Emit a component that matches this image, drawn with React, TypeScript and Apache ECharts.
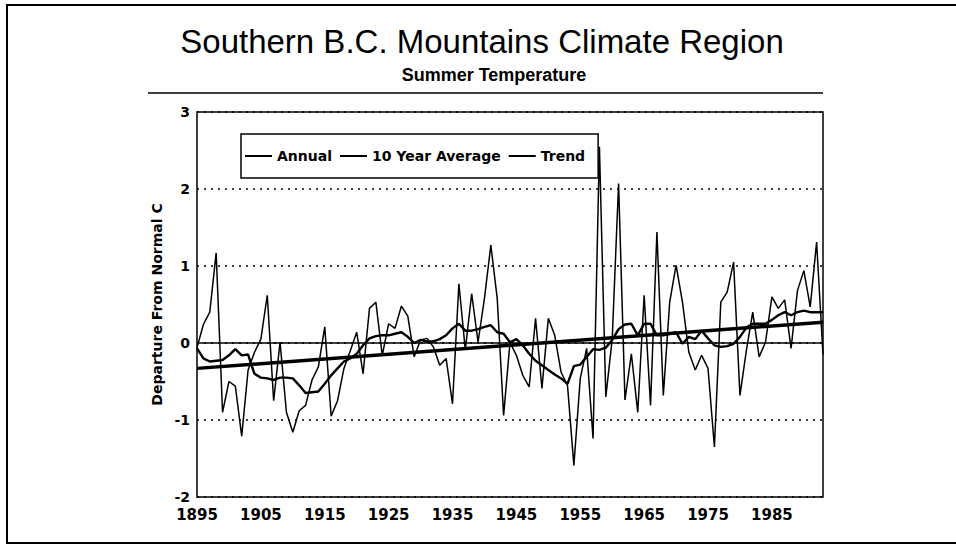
import React, { useEffect, useRef } from "react";
import * as echarts from "echarts";

const FIRST_YEAR = 1895;
const LAST_YEAR = 1993;

// Annual summer temperature departure (°C), 1895–1993
const annual: number[] = [
  -0.06, 0.24, 0.4, 1.17, -0.9, -0.5, -0.56, -1.21, -0.35, -0.12,
  0.05, 0.62, -0.75, 0.01, -0.9, -1.16, -0.88, -0.81, -0.48, -0.31,
  0.21, -0.95, -0.75, -0.33, -0.1, 0.14, -0.4, 0.45, 0.53, -0.16,
  0.25, 0.19, 0.48, 0.35, -0.18, 0.04, 0.06, -0.05, -0.29, -0.2,
  -0.79, 0.77, -0.09, 0.64, 0.01, 0.58, 1.27, 0.58, -0.94, 0.01,
  -0.16, -0.42, -0.57, 0.32, -0.59, 0.32, 0.1, -0.38, -0.55, -1.59,
  -0.46, -0.07, -1.24, 2.55, -0.7, 0.05, 2.07, -0.74, -0.14, -0.9,
  0.62, -0.81, 1.44, -0.68, 0.53, 1.01, 0.53, -0.12, -0.35, -0.16,
  -0.33, -1.35, 0.53, 0.66, 1.05, -0.68, -0.1, 0.4, -0.18, 0.01,
  0.6, 0.45, 0.56, -0.07, 0.68, 0.94, 0.47, 1.31, -0.15,
];

// 10 year running average
const tenYear: number[] = [
  -0.07, -0.2, -0.24, -0.23, -0.22, -0.16, -0.08, -0.16, -0.15, -0.4,
  -0.45, -0.46, -0.48, -0.45, -0.45, -0.46, -0.55, -0.65, -0.64, -0.63,
  -0.53, -0.42, -0.33, -0.24, -0.2, -0.14, -0.03, 0.06, 0.09, 0.1,
  0.1, 0.12, 0.14, 0.08, 0.0, 0.04, 0.02, 0.02, 0.05, 0.1,
  0.19, 0.25, 0.16, 0.16, 0.18, 0.21, 0.23, 0.14, 0.12, 0.01,
  0.05, -0.03, -0.14, -0.23, -0.29, -0.35, -0.41, -0.46, -0.53, -0.3,
  -0.28, -0.18, -0.08, -0.09, -0.06, 0.04, 0.18, 0.24, 0.25, 0.1,
  0.25, 0.25, 0.1, 0.1, 0.12, 0.14, -0.01, 0.08, 0.05, 0.16,
  0.06, -0.03, -0.05, -0.04, -0.01, 0.08, 0.2, 0.25, 0.25, 0.25,
  0.3, 0.36, 0.4, 0.36, 0.4, 0.42, 0.4, 0.4, 0.4,
];

// Linear trend end points
const trendYears: number[] = [1895, 1993];
const trendValues: number[] = [-0.33, 0.27];

const seriesNames: string[] = ["Annual", "10 Year Average", "Trend"];

const TITLE = "Southern B.C. Mountains Climate Region";
const SUBTITLE = "Summer Temperature";
const Y_NAME = "Departure From Normal C";

const years = annual.map((_, i) => FIRST_YEAR + i);

export default function App() {
  const ref = useRef<HTMLDivElement>(null);

  useEffect(() => {
    if (!ref.current) return;
    const chart = echarts.init(ref.current, undefined, { renderer: "svg" });
    const boldFont = "DejaVu Sans";
    const option: any = {
      animation: false,
      backgroundColor: "#ffffff",
      textStyle: { fontFamily: boldFont },
      grid: {
        left: 197,
        top: 112,
        width: 626,
        height: 385,
        show: true,
        borderColor: "#000",
        borderWidth: 1.5,
        backgroundColor: "transparent",
      },
      legend: {
        left: 241,
        top: 134,
        orient: "horizontal",
        padding: [15, 13, 15, 4],
        itemGap: 8,
        itemWidth: 27,
        itemHeight: 2,
        borderColor: "#000",
        borderWidth: 1.5,
        backgroundColor: "#fff",
        textStyle: {
          fontFamily: boldFont,
          fontWeight: "bold",
          fontSize: 14,
          color: "#000",
        },
        data: seriesNames.map((n) => ({ name: n, icon: "rect" })),
      },
      xAxis: {
        type: "value",
        min: FIRST_YEAR,
        max: LAST_YEAR,
        interval: 10,
        axisLine: { show: false },
        axisTick: { show: false },
        splitLine: { show: false },
        axisLabel: {
          formatter: (v: number) => String(v),
          showMaxLabel: false,
          margin: 10,
          color: "#000",
          fontWeight: "bold",
          fontSize: 15,
          fontFamily: boldFont,
        },
      },
      yAxis: {
        type: "value",
        min: -2,
        max: 3,
        interval: 1,
        name: Y_NAME,
        nameLocation: "middle",
        nameRotate: 90,
        nameGap: 31,
        nameTextStyle: {
          fontFamily: boldFont,
          fontWeight: "bold",
          fontSize: 14,
          color: "#000",
        },
        axisLine: { show: false },
        axisTick: { show: false },
        splitLine: {
          show: true,
          lineStyle: { type: [2, 5], color: "#000", width: 1.6 },
        },
        axisLabel: {
          color: "#000",
          fontWeight: "bold",
          fontSize: 14,
          fontFamily: boldFont,
          margin: 7,
        },
      },
      graphic: [
        {
          type: "rect",
          shape: { x: 7, y: 5, width: 960, height: 538 },
          style: { fill: "none", stroke: "#000", lineWidth: 2 },
          silent: true,
        },
        {
          type: "line",
          shape: { x1: 148, y1: 93, x2: 823, y2: 93 },
          style: { stroke: "#000", lineWidth: 1.5 },
          silent: true,
        },
        {
          type: "text",
          x: 482,
          y: 41,
          style: {
            text: TITLE,
            fill: "#000",
            fontFamily: "Liberation Sans",
            fontSize: 33,
            fontWeight: "normal",
            align: "center",
            verticalAlign: "middle",
          },
        },
        {
          type: "text",
          x: 494,
          y: 75,
          style: {
            text: SUBTITLE,
            fill: "#000",
            fontFamily: "Liberation Sans",
            fontSize: 18,
            fontWeight: "bold",
            align: "center",
            verticalAlign: "middle",
          },
        },
      ],
      series: [
        {
          name: seriesNames[0],
          type: "line",
          data: years.map((y, i) => [y, annual[i]]),
          showSymbol: false,
          symbol: "none",
          itemStyle: { color: "#000" },
          lineStyle: { color: "#000", width: 1.5 },
          z: 3,
          markLine: {
            silent: true,
            symbol: "none",
            label: { show: false },
            lineStyle: { color: "#000", type: "solid", width: 1.6 },
            data: [{ yAxis: 0 }],
          },
        },
        {
          name: seriesNames[1],
          type: "line",
          data: years.map((y, i) => [y, tenYear[i]]),
          showSymbol: false,
          symbol: "none",
          itemStyle: { color: "#000" },
          lineStyle: { color: "#000", width: 2.4 },
          z: 4,
        },
        {
          name: seriesNames[2],
          type: "line",
          data: trendYears.map((y, i) => [y, trendValues[i]]),
          showSymbol: false,
          symbol: "none",
          itemStyle: { color: "#000" },
          lineStyle: { color: "#000", width: 3.4 },
          z: 5,
        },
      ],
    };
    chart.setOption(option);
    return () => {
      chart.dispose();
    };
  }, []);

  return (
    <div
      ref={ref}
      style={{ position: "absolute", left: 0, top: 0, width: 956, height: 546 }}
    />
  );
}
